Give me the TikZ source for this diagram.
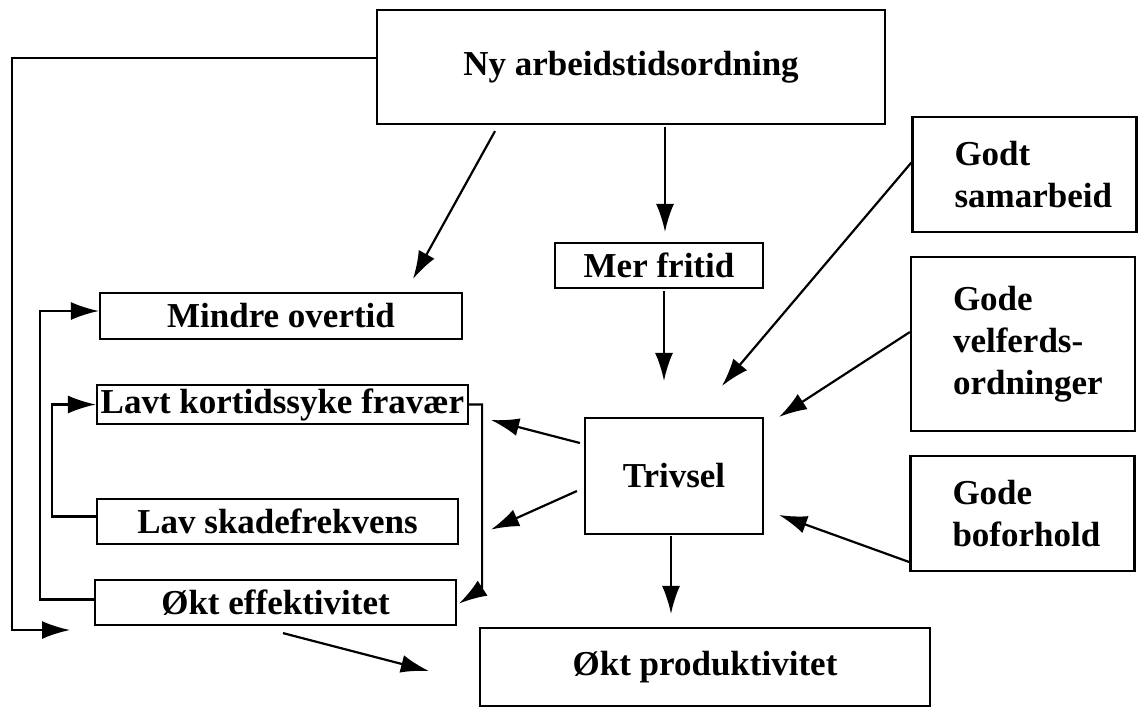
\documentclass[tikz,border=0pt]{standalone}
\usepackage{fontspec}
\setmainfont{Liberation Serif}
\usetikzlibrary{arrows.meta, calc}
\hfuzz=30pt

\begin{document}
\begin{tikzpicture}[x=0.5pt, y=-0.5pt, line width=1.1pt,
    > = {Latex[length=14pt, width=9pt]},
    font=\bfseries\fontsize{17.5}{21}\selectfont]
    \tikzset{
      my box/.style 2 args={
        draw, inner sep=0pt, minimum width=#1, minimum height=#2
      },
      my text box/.style={
        draw, inner xsep=21pt, inner ysep=0pt, text width=70pt, align=left
      },
    }
    \useasboundingbox (0,0) rectangle (1139,707);

    % Boxes
    \node (ny) [my box={254pt}{57pt}] at (631,67) {Ny arbeidstidsordning};
    \node (mer) [my box={104pt}{22.5pt}] at (659,265.5) {Mer fritid};
    \node (godt) [my text box, minimum height=57.5pt] at (1024.5,174.5) {Godt\\samarbeid};
    \node (velf) [my text box, minimum height=87pt] at (1023,344) {Gode\\velferds-\\ordninger};
    \node (bofo) [my text box, minimum height=57.5pt] at (1022.5,513.5) {Gode\\boforhold};
    \node (triv) [my box={89pt}{58pt}] at (674,476) {Trivsel};
    \node (prod) [my box={225pt}{39pt}] at (705,667) {Økt produktivitet};
    \node (mindre) [my box={181pt}{23pt}] at (281,316) {Mindre overtid};
    \node (lavt) [my box={185.5pt}{19.5pt}] at (282.5,404.5) {Lavt kortidssyke fravær};
    \node (skade) [my box={180.5pt}{22.5pt}] at (277.5,521.5) {Lav skadefrekvens};
    \node (effekt) [my box={180.5pt}{22.5pt}] at (275.5,602.5) {Økt effektivitet};

    % Arrows
    \coordinate (hjorne) at (12,630);
    \coordinate (inn) at (70,630);
    \draw[->] ($(ny.west)+(0,-9)$) -| (hjorne) -- (inn);
    \draw[->] ($(ny.south)+(-136,6)$) -- ($(mindre.north)+(132,-13)$);
    \draw[->] ($(ny.south)+(34,2)$) -- ($(mer.north)+(6,-10)$);
    \draw[->] ($(mer.south)+(5,2)$) -- ($(triv.north)+(-10,-36)$);
    \draw[->] ($(godt.west)+(0,-12)$) -- ($(triv.north)+(48,-31)$);
    \draw[->] ($(velf.west)+(0,-12)$) -- ($(triv.north east)+(15,0)$);
    \draw[->] ($(bofo.south west)+(0,-10)$) -- ($(triv.east)+(15,39)$);
    \draw[->] ($(triv.west)+(-4,-33)$) -- ($(lavt.east)+(22,15.5)$);
    \draw[->] ($(triv.west)+(-7,15)$) -- ($(skade.east)+(32,8)$);
    \draw[->] ($(triv.south)+(-3,1)$) -- ($(prod.north)+(-34,-13)$);
    \draw[->] ($(effekt.south)+(7.5,7)$) -- ($(prod.west)+(-50,4)$);

    % Feedback lines
    \draw[->] ($(effekt.west)+(0,-3)$) -- ++(-54,0) |- ($(mindre.west)+(0,-5)$);
    \draw[->] ($(skade.west)+(0,-5)$) -- ++(-44,0) |- (lavt.west);
    \draw[->] (lavt.east) -| ($(effekt.east)+(25,-14)$) -- ($(effekt.east)+(2,1)$);

  \end{tikzpicture}
\end{document}
